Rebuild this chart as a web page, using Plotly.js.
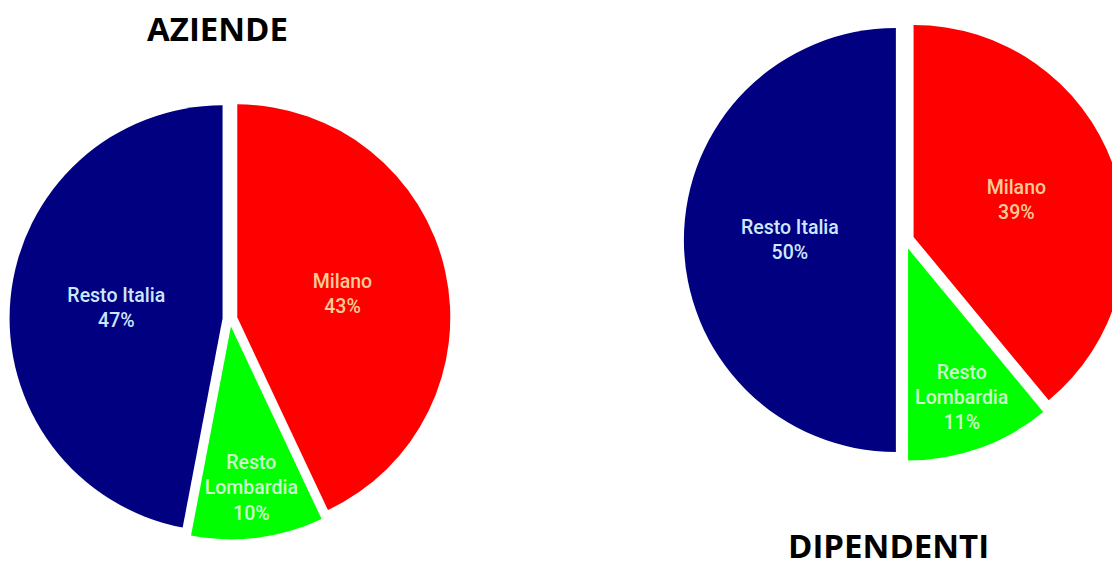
<!DOCTYPE html>
<html>
<head>
<meta charset="utf-8">
<script src="https://cdn.plot.ly/plotly-3.0.1.min.js"></script>
<style>
  html, body { margin: 0; padding: 0; overflow: hidden; background: #ffffff; }
  #chart { width: 1150px; height: 569px; }
</style>
</head>
<body>
<div id="chart"></div>
<script>
// Data
const categories = ["Milano", "Resto<br>Lombardia", "Resto Italia"];
const aziendeValues = [43, 10, 47];
const dipendentiValues = [39, 11, 50];
const chartTitles = ["AZIENDE", "DIPENDENTI"];

const sliceColors = ["#ff0000", "#00ff00", "#000080"];
const labelColors = ["#ffcc99", "#ccffcc", "#cce8ff"];

const W = 1150, H = 569;

function dom(cx, cy, half) {
  return {
    x: [(cx - half) / W, (cx + half) / W],
    y: [(H - cy - half) / H, (H - cy + half) / H]
  };
}

const labelFont = { family: "Roboto, Liberation Sans, sans-serif", size: 19.5, weight: 500, color: labelColors };

const traces = [
  {
    type: "pie",
    labels: categories,
    values: aziendeValues,
    sort: false,
    direction: "clockwise",
    rotation: 0,
    pull: 0.035,
    marker: { colors: sliceColors, line: { width: 0 } },
    textinfo: "label+percent",
    textposition: "inside",
    insidetextorientation: "horizontal",
    insidetextfont: labelFont,
    hoverinfo: "none",
    showlegend: false,
    domain: dom(230, 319, 213 * 1.035)
  },
  {
    type: "pie",
    labels: categories,
    values: dipendentiValues,
    sort: false,
    direction: "clockwise",
    rotation: 0,
    pull: 0.043,
    marker: { colors: sliceColors, line: { width: 0 } },
    textinfo: "label+percent",
    textposition: "inside",
    insidetextorientation: "horizontal",
    insidetextfont: labelFont,
    hoverinfo: "none",
    showlegend: false,
    domain: dom(905, 240, 212 * 1.043)
  }
];

const titleFont = { family: "Open Sans, sans-serif", size: 33, color: "#000000", weight: "bold" };

const layout = {
  width: W,
  height: H,
  margin: { l: 0, r: 0, t: 0, b: 0 },
  paper_bgcolor: "#ffffff",
  showlegend: false,
  uniformtext: { mode: "show", minsize: 19.5 },
  annotations: [
    { text: "<b>" + chartTitles[0] + "</b>", x: 217 / W, y: 1 - 29 / H, xref: "paper", yref: "paper",
      xanchor: "center", yanchor: "middle", showarrow: false, font: titleFont },
    { text: "<b>" + chartTitles[1] + "</b>", x: 888 / W, y: 0, xref: "paper", yref: "paper",
      xanchor: "center", yanchor: "bottom", borderpad: 0, showarrow: false, font: titleFont }
  ]
};

Plotly.newPlot("chart", traces, layout, { displayModeBar: false, staticPlot: true });
</script>
</body>
</html>
